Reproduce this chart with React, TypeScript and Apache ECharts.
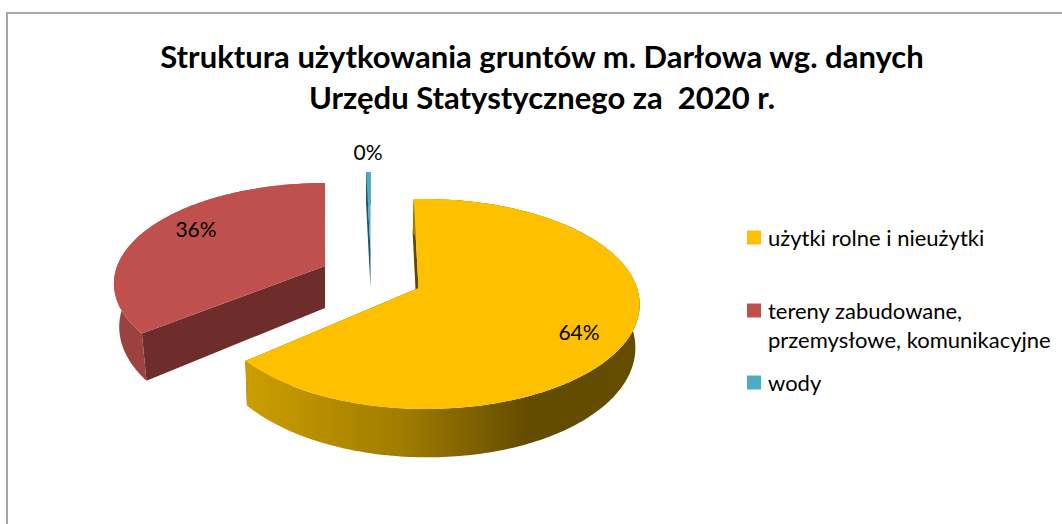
import React, { useEffect, useRef } from "react";
import * as echarts from "echarts";

const titleText = "Struktura użytkowania gruntów m. Darłowa wg. danych\nUrzędu Statystycznego za  2020 r.";
const categories = ["użytki rolne i nieużytki", "tereny zabudowane,\nprzemysłowe, komunikacyjne", "wody"];
const values = [64, 35.6, 0.4];
const colors = ["#FFC000", "#C0504D", "#4BACC6"];
const FONT = "Lato, Carlito, Calibri, sans-serif";

const total = values.reduce((a, b) => a + b, 0);

// 3D look of each exploded slice (projection of a tilted disc).
const looks = [
  {
    apex: [418.5, 288], A: 212, B: 102.5, k: 0.152, m: 0.03, rot: -1.5, T: 41, s: 0.985, sx: -1,
    label: [579, 331], cut: "#5f4800",
    wall: [[0, "#cb9e00"], [0.4, "#a07c00"], [0.72, "#634b00"], [1, "#644c00"]],
  },
  {
    apex: [325, 266], A: 207.8, B: 97.5, k: 0.175, m: 0, rot: 1.4, T: 42, s: 0.975, sx: 0,
    label: [196, 228], cut: "#6e2c2b",
    wall: [[0, "#9a4240"], [1, "#a84744"]],
  },
  {
    apex: [370.5, 250], A: 200, B: 90, k: 0.152, m: 0, rot: 0, T: 38, s: 1, sx: 0,
    label: [368, 151], cut: "#1f5468",
    wall: [[0, "#1f5468"], [1, "#1f5468"]],
  },
];

function renderSlice(index: number) {
  const look = looks[index];
  const before = values.slice(0, index).reduce((a, b) => a + b, 0);
  const from = (before / total) * 360 + look.rot;
  const to = ((before + values[index]) / total) * 360 + look.rot;

  const top = (deg: number) => {
    const t = (deg * Math.PI) / 180;
    const u = Math.sin(t);
    const v = -Math.cos(t);
    const d = 1 - look.k * v - look.m * u;
    return { x: look.apex[0] + (look.A * u) / d, y: look.apex[1] + (look.B * v) / d, d };
  };
  const low = (p: { x: number; y: number; d: number }) => [
    look.apex[0] + (p.x - look.apex[0]) * look.s + look.sx,
    p.y + look.T / p.d,
  ];

  const arc: { x: number; y: number; d: number }[] = [];
  const n = Math.max(2, Math.ceil(to - from));
  for (let i = 0; i <= n; i++) arc.push(top(from + ((to - from) * i) / n));

  const apexTop = [look.apex[0], look.apex[1]];
  const apexLow = [look.apex[0] + look.sx, look.apex[1] + look.T];
  const arcTop = arc.map((p) => [p.x, p.y]);
  const arcLow = arc.map(low);

  const children: any[] = [
    {
      type: "polygon",
      shape: { points: [apexTop, arcTop[arcTop.length - 1], arcLow[arcLow.length - 1], apexLow] },
      style: { fill: look.cut },
    },
    {
      type: "polygon",
      shape: { points: [apexTop, arcTop[0], arcLow[0], apexLow] },
      style: { fill: look.cut },
    },
    {
      type: "polygon",
      shape: { points: [...arcTop, ...arcLow.slice().reverse()] },
      style: {
        fill: new echarts.graphic.LinearGradient(
          0, 0, 1, 0,
          look.wall.map(([offset, color]) => ({ offset: offset as number, color: color as string }))
        ),
      },
    },
    {
      type: "polygon",
      shape: { points: [apexTop, ...arcTop] },
      style: { fill: colors[index] },
    },
    {
      type: "text",
      style: {
        text: `${Math.round((values[index] / total) * 100)}%`,
        x: look.label[0],
        y: look.label[1],
        align: "center",
        verticalAlign: "middle",
        fontFamily: FONT,
        fontSize: 21,
        fill: "#000000",
      },
    },
  ];
  return { type: "group", children };
}

const legendTops = [223, 296, 368];
// The two-line entry keeps its square beside the first line of text.
const legendIcons = ["rect", "path://M0 0H14V14H0Z M0 43H0.01V43Z", "rect"];
const legendIconHeights = [14, 43, 14];

export default function App() {
  const ref = useRef<HTMLDivElement>(null);
  useEffect(() => {
    const chart = echarts.init(ref.current!, null, { renderer: "svg" });
    chart.setOption({
      animation: false,
      backgroundColor: "#ffffff",
      title: {
        text: titleText,
        left: 537,
        top: 30,
        textAlign: "center",
        textStyle: { fontFamily: FONT, fontSize: 31, fontWeight: "bold", color: "#000000", lineHeight: 41 },
      },
      legend: categories.map((name, i) => ({
        data: [name],
        orient: "vertical",
        left: 747,
        top: legendTops[i],
        padding: 0,
        icon: legendIcons[i],
        itemWidth: 14,
        itemHeight: legendIconHeights[i],
        selectedMode: false,
        textStyle: {
          fontFamily: FONT,
          fontSize: 22,
          color: "#000000",
          lineHeight: 29,
          padding: [0, 0, 0, 2],
        },
      })),
      graphic: [
        {
          type: "polyline",
          shape: { points: [[7, 524], [7, 13], [1062, 13]] },
          style: { stroke: "#a6a6a6", lineWidth: 2, fill: "none" },
          silent: true,
        },
      ],
      series: categories.map((name, i) => ({
        type: "custom",
        name,
        coordinateSystem: "none",
        itemStyle: { color: colors[i] },
        data: [{ name, value: values[i] }],
        renderItem: () => renderSlice(i),
      })),
    });
    return () => chart.dispose();
  }, []);
  return <div ref={ref} style={{ position: "fixed", left: 0, top: 0, width: 1062, height: 524 }} />;
}
